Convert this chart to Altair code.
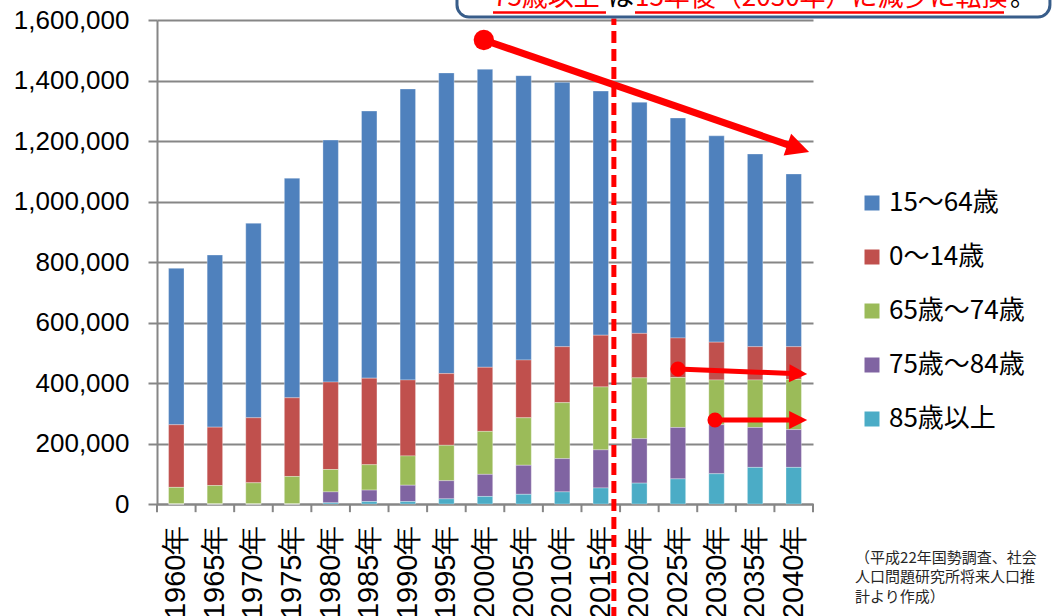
import altair as alt
import pandas as pd

# ---------------- data (persons) ----------------
years = ["1960年", "1965年", "1970年", "1975年", "1980年", "1985年", "1990年",
         "1995年", "2000年", "2005年", "2010年", "2015年", "2020年", "2025年",
         "2030年", "2035年", "2040年"]
groups = ["15～64歳", "0～14歳", "65歳～74歳", "75歳～84歳", "85歳以上"]
colors = ["#4F81BD", "#C0504D", "#9BBB59", "#8064A2", "#4BACC6"]
stack_rank = [4, 3, 2, 1, 0]   # 0 = bottom of the stack

age15_64 = [517000, 569000, 643000, 726000, 800000, 883000, 962000, 994000, 985000,
            940000, 874000, 807000, 764000, 727000, 682000, 637000, 571000]
age0_14 = [207000, 193000, 215000, 260000, 289000, 286000, 251000, 237000, 212000,
           191000, 185000, 171000, 147000, 131000, 125000, 110000, 108000]
age65_74 = [55000, 61000, 70000, 91000, 74000, 84000, 97000, 117000, 142000,
            157000, 185000, 208000, 201000, 165000, 148000, 157000, 166000]
age75_84 = [0, 0, 0, 0, 36000, 38000, 54000, 60000, 73000,
            96000, 110000, 126000, 147000, 170000, 162000, 132000, 125000]
age85 = [0, 0, 0, 0, 4000, 8000, 8000, 17000, 25000,
         32000, 40000, 53000, 69000, 83000, 100000, 121000, 121000]
series = [age15_64, age0_14, age65_74, age75_84, age85]

y_ticks = [0, 200000, 400000, 600000, 800000, 1000000, 1200000, 1400000, 1600000]

rows = []
for g, vals, rk in zip(groups, series, stack_rank):
    for yr, v in zip(years, vals):
        rows.append({"year": yr, "group": g, "value": v, "rank": rk})
df = pd.DataFrame(rows)

# ---------------- annotations (category-index x, value y) ----------------
# category boundaries (between-category tick marks, as in the original axis)
boundaries = pd.DataFrame({"x": list(range(len(years) + 1)),
                           "y": [0] * (len(years) + 1),
                           "y2": [-27000] * (len(years) + 1)})
divider = pd.DataFrame([{"x": 11.84, "y": -380000, "y2": 1605000}])
arrows = pd.DataFrame([
    {"x0": 8.47, "y0": 1534000, "x1": 16.60, "y1": 1176500, "xt": 16.90, "yt": 1163600,
     "ang": 19.0, "w": 7, "ds": 415, "hs": 529},
    {"x0": 13.50, "y0": 446300, "x1": 16.61, "y1": 430700, "xt": 16.85, "yt": 429800,
     "ang": 2.2, "w": 5, "ds": 227, "hs": 324},
    {"x0": 14.46, "y0": 277700, "x1": 16.61, "y1": 277700, "xt": 16.85, "yt": 277700,
     "ang": 0.0, "w": 5, "ds": 227, "hs": 324},
])
box = pd.DataFrame([{"x": 7.774, "x2": 23.14, "y": 1610000, "y2": 1800000}])
callout = pd.DataFrame([
    {"x": 8.707, "y": 1645000, "t": "75歳以上", "c": "#FF0000"},
    {"x": 11.688, "y": 1645000, "t": "は", "c": "#000000"},
    {"x": 12.387, "y": 1645000, "t": "15年後（2030年）に減少に転換", "c": "#FF0000"},
    {"x": 22.105, "y": 1645000, "t": "。", "c": "#000000"},
])
underline = pd.DataFrame([
    {"x": 8.707, "x2": 11.635, "y": 1624800},
    {"x": 12.387, "x2": 21.95, "y": 1624800},
])
footnote = pd.DataFrame([
    {"x": 18.09, "y": -178500, "t": "（平成22年国勢調査、社会"},
    {"x": 18.09, "y": -241300, "t": "人口問題研究所将来人口推"},
    {"x": 18.09, "y": -307400, "t": "計より作成）"},
])

GRAY = "#868686"
y_scale = alt.Scale(domain=[0, 1600000], nice=False)
ann_x = alt.Scale(domain=[0, 17], nice=False, zero=False)
y_axis = alt.Axis(title=None, values=y_ticks,
                  labelExpr="format(datum.value, ',')", grid=True,
                  gridColor=GRAY, gridWidth=2, domainColor=GRAY,
                  domainWidth=2, tickColor=GRAY, tickWidth=2, tickSize=9,
                  labelFont="Liberation Sans", labelFontSize=26,
                  labelColor="#000000", labelPadding=19)


def ax(f):
    return alt.X(f + ":Q", scale=ann_x, axis=None)


def ay(f):
    return alt.Y(f + ":Q", scale=y_scale, axis=y_axis)


bars = alt.Chart(df).mark_bar(stroke="white", strokeWidth=0.5, strokeOpacity=0.6).encode(
    x=alt.X("year:N", sort=years,
            scale=alt.Scale(paddingInner=0.6, paddingOuter=0.3),
            axis=alt.Axis(title=None, labelAngle=270, labelAlign="right",
                          labelBaseline="middle", labelFont="Liberation Sans",
                          labelFontSize=29, labelColor="#000000", labelPadding=21,
                          labelOverlap=False, ticks=False,
                          domainColor=GRAY, domainWidth=2, grid=False)),
    y=alt.Y("value:Q", stack="zero", scale=y_scale, axis=y_axis),
    color=alt.Color("group:N", scale=alt.Scale(domain=groups, range=colors),
                    legend=alt.Legend(title=None, orient="none", legendX=702,
                                      legendY=170, symbolType="square",
                                      symbolSize=225, symbolStrokeWidth=0,
                                      labelFont="Noto Sans CJK JP", labelFontSize=26,
                                      labelColor="#000000", rowPadding=28,
                                      labelOffset=4, padding=0, labelLimit=300)),
    order=alt.Order("rank:Q", sort="ascending"),
)

x_ticks = alt.Chart(boundaries).mark_rule(color=GRAY, strokeWidth=2).encode(
    x=ax("x"), y=ay("y"), y2="y2:Q")

div_rule = alt.Chart(divider).mark_rule(color="#FF0000", strokeWidth=5,
                                        strokeDash=[12, 6]).encode(
    x=ax("x"), y=ay("y"), y2="y2:Q")

arrow_lines = alt.Chart(arrows).mark_rule(color="#FF0000", strokeCap="butt").encode(
    x=ax("x0"), y=ay("y0"), x2="x1:Q", y2="y1:Q",
    strokeWidth=alt.StrokeWidth("w:Q", scale=None))

arrow_dots = alt.Chart(arrows).mark_circle(color="#FF0000", opacity=1).encode(
    x=ax("x0"), y=ay("y0"), size=alt.Size("ds:Q", scale=None))

arrow_heads = alt.Chart(arrows).mark_point(shape="M0,0L-2,-1L-2,1Z", filled=True,
                                           color="#FF0000", opacity=1,
                                           strokeWidth=0).encode(
    x=ax("xt"), y=ay("yt"), size=alt.Size("hs:Q", scale=None),
    angle=alt.Angle("ang:Q", scale=None))

box_rect = alt.Chart(box).mark_rect(fill="white", stroke="#385D8A", strokeWidth=3,
                                    cornerRadius=12).encode(
    x=ax("x"), x2="x2:Q", y=ay("y"), y2="y2:Q")

callout_text = alt.Chart(callout).mark_text(font="Noto Sans CJK JP", fontSize=26,
                                            align="left",
                                            baseline="alphabetic").encode(
    x=ax("x"), y=ay("y"), text="t:N", color=alt.Color("c:N", scale=None))

underline_rules = alt.Chart(underline).mark_rule(color="#FF0000", strokeWidth=2.5).encode(
    x=ax("x"), x2="x2:Q", y=ay("y"))

foot_text = alt.Chart(footnote).mark_text(font="Noto Sans CJK JP", fontSize=15,
                                          align="left", baseline="middle",
                                          color="#262626").encode(
    x=ax("x"), y=ay("y"), text="t:N")

chart = alt.layer(
    bars, x_ticks, div_rule, arrow_lines, arrow_dots, arrow_heads,
    box_rect, callout_text, underline_rules, foot_text
).resolve_scale(x="independent").properties(
    width=656, height=484,
    padding={"left": 157, "top": 20, "right": 240, "bottom": 112},
    autosize=alt.AutoSizeParams(type="none"),
    background="white",
).configure_view(stroke=None)

chart.save("out.html", embed_options={"renderer": "svg", "actions": False})
